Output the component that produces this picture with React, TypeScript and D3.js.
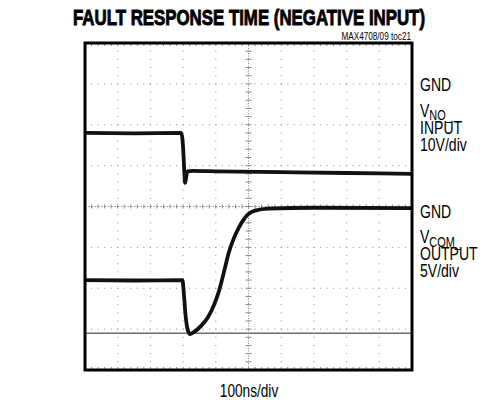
import React, { useRef, useEffect } from 'react';
import * as d3 from 'd3';

// scope trace samples: time in ns, level in volts
const inputTime = [0, 150, 294, 298, 301, 304, 306, 309, 313, 330, 400, 600, 800, 1000];
const inputVolts = [-12, -12.1, -12, -13.5, -17, -22, -24.2, -23, -21.4, -21.3, -21.4, -21.6, -21.8, -22];

const outputTime = [0, 150, 298, 302, 308, 315, 322, 335, 355, 375, 395, 410, 425, 440, 455, 470, 485, 500, 520, 560, 700, 1000];
const outputVolts = [-9, -9.05, -9, -10.5, -13.5, -15.2, -15.6, -15.3, -14.6, -13.6, -12, -10.3, -8, -5.6, -3.9, -2.6, -1.6, -0.9, -0.5, -0.25, -0.15, -0.2];

// horizontal cursor on the output channel (V)
const cursorVolts = -15.5;

// channel settings: ground position in divisions from centre, volts per division
const inputGndDiv = 3;
const inputVoltsPerDiv = 10;
const outputGndDiv = 0;
const outputVoltsPerDiv = 5;

const timeDivs = [0, 1, 2, 3, 4, 5, 6, 7, 8, 9, 10]; // x 100ns
const levelDivs = [-4, -3, -2, -1, 0, 1, 2, 3, 4];

const title = 'FAULT RESPONSE TIME (NEGATIVE INPUT)';
const partLabel = 'MAX4708/09 toc21';
const timeLabel = '100ns/div';

const App: React.FC = () => {
  const svgRef = useRef<SVGSVGElement>(null);

  useEffect(() => {
    if (!svgRef.current) return;
    const W = 486;
    const H = 402;
    const left = 85, right = 412, top = 43, bottom = 370;
    const font = "'Liberation Sans', Arial, sans-serif";
    const squeeze = 0.78;

    d3.select(svgRef.current).selectAll('*').remove();
    const svg = d3.select(svgRef.current).attr('width', W).attr('height', H);

    svg.append('rect').attr('width', W).attr('height', H).attr('fill', '#fff');

    const x = d3.scaleLinear().domain([0, 1000]).range([left, right]);
    const y = d3.scaleLinear().domain([-4, 4]).range([bottom, top]);

    const grid = svg.append('g').attr('fill', '#8a8a8a');
    const minorX = d3.range(1, 50).map(k => k * 20);
    const minorY = d3.range(1, 40).map(k => -4 + k * 0.2);

    // dotted graticule
    timeDivs.slice(1, -1).forEach(d => {
      if (d === 5) return;
      minorY.forEach(v => {
        grid.append('rect').attr('x', x(d * 100) - 0.5).attr('y', y(v) - 0.5).attr('width', 1).attr('height', 1);
      });
    });
    levelDivs.slice(1, -1).forEach(d => {
      if (d === 0) return;
      minorX.forEach(t => {
        grid.append('rect').attr('x', x(t) - 0.5).attr('y', y(d) - 0.5).attr('width', 1).attr('height', 1);
      });
    });

    // centre axes with minor ticks
    const axes = svg.append('g').attr('stroke', '#8a8a8a').attr('stroke-width', 1);
    axes.append('line')
      .attr('x1', left).attr('x2', right).attr('y1', y(0)).attr('y2', y(0))
      .attr('stroke-dasharray', '1.5,1.77');
    axes.append('line')
      .attr('x1', x(500)).attr('x2', x(500)).attr('y1', top).attr('y2', bottom)
      .attr('stroke-dasharray', '1,1.5');
    minorX.forEach(t => {
      axes.append('line').attr('x1', x(t)).attr('x2', x(t)).attr('y1', y(0) - 2).attr('y2', y(0) + 2);
      axes.append('line').attr('x1', x(t)).attr('x2', x(t)).attr('y1', top).attr('y2', top + 3);
      axes.append('line').attr('x1', x(t)).attr('x2', x(t)).attr('y1', bottom - 3).attr('y2', bottom);
    });
    minorY.forEach(v => {
      axes.append('line').attr('x1', x(500) - 3).attr('x2', x(500) + 3).attr('y1', y(v)).attr('y2', y(v));
    });

    // cursor
    const outLevel = (v: number) => y(outputGndDiv + v / outputVoltsPerDiv);
    const inLevel = (v: number) => y(inputGndDiv + v / inputVoltsPerDiv);
    svg.append('line')
      .attr('x1', left).attr('x2', right)
      .attr('y1', outLevel(cursorVolts)).attr('y2', outLevel(cursorVolts))
      .attr('stroke', '#6e6e6e').attr('stroke-width', 1.5);

    // traces
    const inputPts: [number, number][] = inputTime.map((t, i) => [x(t), inLevel(inputVolts[i])]);
    const outputPts: [number, number][] = outputTime.map((t, i) => [x(t), outLevel(outputVolts[i])]);
    const line = d3.line().curve(d3.curveMonotoneX);
    [inputPts, outputPts].forEach(pts => {
      svg.append('path')
        .attr('d', line(pts))
        .attr('fill', 'none')
        .attr('stroke', '#111')
        .attr('stroke-width', 3.8)
        .attr('stroke-linejoin', 'round');
    });

    // frame
    svg.append('rect')
      .attr('x', left).attr('y', top)
      .attr('width', right - left).attr('height', bottom - top)
      .attr('fill', 'none').attr('stroke', '#000').attr('stroke-width', 3);

    // condensed text helper
    const label = (tx: number, ty: number, str: string, size: number, anchor = 'start') =>
      svg.append('text')
        .attr('transform', `translate(${tx},${ty}) scale(${squeeze},1)`)
        .attr('text-anchor', anchor)
        .style('font-family', font).style('font-size', `${size}px`)
        .text(str);

    // titles
    svg.append('text')
      .attr('x', 249).attr('y', 25)
      .attr('text-anchor', 'middle')
      .attr('textLength', 352).attr('lengthAdjust', 'spacingAndGlyphs')
      .style('font-family', font).style('font-weight', 'bold').style('font-size', '22px')
      .attr('stroke', '#000').attr('stroke-width', 0.9)
      .text(title);
    label(411, 39.5, partLabel, 10.5, 'end');
    label(249, 396.5, timeLabel, 17.5, 'middle');

    // channel labels
    const channelLabel = (baseline: number, sub: string, kind: string, scale: string) => {
      label(420, baseline, 'GND', 18);
      const v = label(420, baseline + 25.5, 'V', 18);
      v.append('tspan').attr('dy', 3.5).style('font-size', '14px').text(sub);
      label(420, baseline + 42.5, kind, 18);
      label(420, baseline + 59.5, scale, 18);
    };
    channelLabel(inLevel(0) + 7.5, 'NO_', 'INPUT', `${inputVoltsPerDiv}V/div`);
    channelLabel(outLevel(0) + 11, 'COM_', 'OUTPUT', `${outputVoltsPerDiv}V/div`);
  }, []);

  return <svg ref={svgRef} style={{ position: 'absolute', left: 0, top: 0 }} />;
};

export default App;
